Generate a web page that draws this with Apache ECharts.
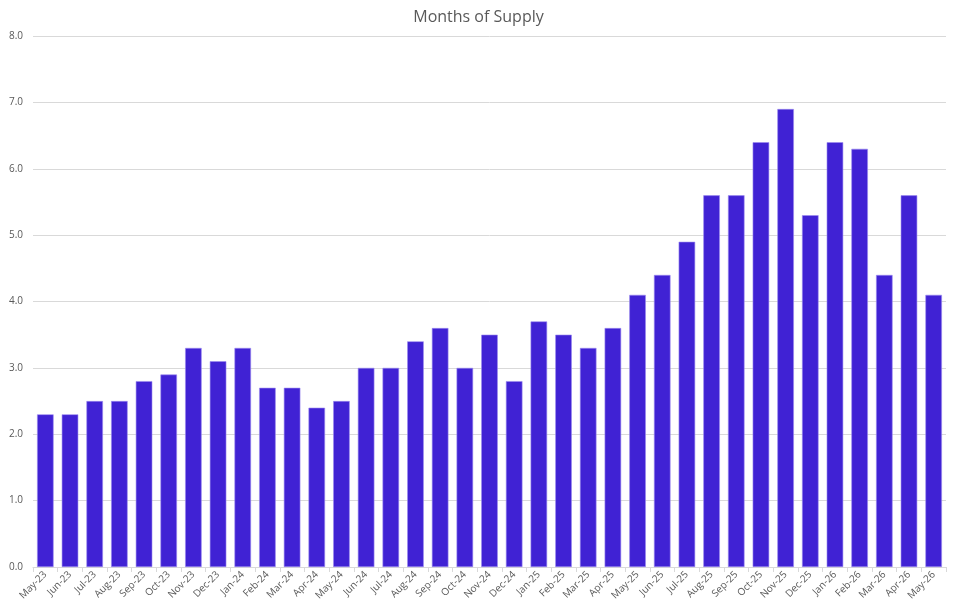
<!DOCTYPE html>
<html>
<head>
<meta charset="utf-8">
<script src="https://cdn.jsdelivr.net/npm/echarts@6/dist/echarts.min.js"></script>
<style>
  html, body { margin: 0; padding: 0; background: #fff; }
  #chart { width: 957px; height: 604px; }
</style>
</head>
<body>
<div id="chart"></div>
<script>
  var months = ['May-23','Jun-23','Jul-23','Aug-23','Sep-23','Oct-23','Nov-23','Dec-23',
    'Jan-24','Feb-24','Mar-24','Apr-24','May-24','Jun-24','Jul-24','Aug-24','Sep-24','Oct-24','Nov-24','Dec-24',
    'Jan-25','Feb-25','Mar-25','Apr-25','May-25','Jun-25','Jul-25','Aug-25','Sep-25','Oct-25','Nov-25','Dec-25',
    'Jan-26','Feb-26','Mar-26','Apr-26','May-26'];
  var supply = [2.3, 2.3, 2.5, 2.5, 2.8, 2.9, 3.3, 3.1,
    3.3, 2.7, 2.7, 2.4, 2.5, 3.0, 3.0, 3.4, 3.6, 3.0, 3.5, 2.8,
    3.7, 3.5, 3.3, 3.6, 4.1, 4.4, 4.9, 5.6, 5.6, 6.4, 6.9, 5.3,
    6.4, 6.3, 4.4, 5.6, 4.1];

  var myChart = echarts.init(document.getElementById('chart'));
  var option = {
    animation: false,
    title: {
      text: 'Months of Supply',
      left: 'center',
      top: 4,
      textStyle: { fontSize: 16, fontWeight: 'normal', color: '#595959', fontFamily: 'Open Sans' }
    },
    grid: { left: 33, right: 11, top: 36, bottom: 37 },
    xAxis: {
      type: 'category',
      data: months,
      axisLine: { lineStyle: { color: '#d9d9d9' } },
      axisTick: { show: true, lineStyle: { color: '#d9d9d9' } },
      axisLabel: { rotate: 45, fontSize: 10, color: '#595959', interval: 0, margin: 6, fontFamily: 'Open Sans' }
    },
    yAxis: {
      type: 'value',
      min: 0,
      max: 8,
      interval: 1,
      axisLine: { show: false },
      axisTick: { show: false },
      splitLine: { lineStyle: { color: '#d9d9d9' } },
      axisLabel: {
        fontSize: 10, color: '#595959', margin: 10, fontFamily: 'Open Sans',
        formatter: function (v) { return v.toFixed(1); }
      }
    },
    series: [{
      name: 'Months of Supply',
      type: 'bar',
      data: supply,
      barCategoryGap: '33%',
      itemStyle: { color: '#4022d4', borderColor: '#9c8cf0', borderWidth: 0.6 }
    }]
  };
  myChart.setOption(option);
</script>
</body>
</html>
